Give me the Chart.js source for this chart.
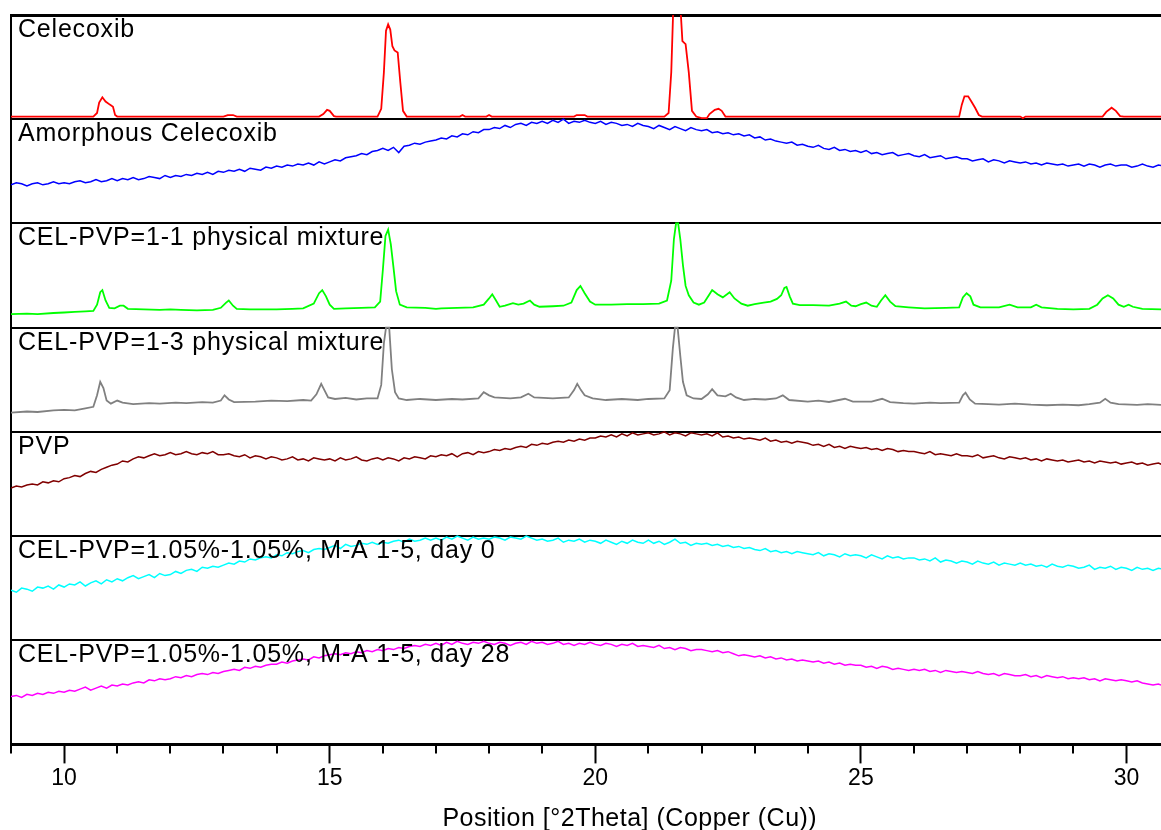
<!DOCTYPE html>
<html lang="en">
<head>
    <meta charset="UTF-8">
    <title>XRD patterns - Celecoxib / PVP</title>
    <style>
        body {
            margin: 0;
            background-color: #ffffff;
            overflow: hidden;
        }
        canvas {
            display: block;
        }
    </style>
</head>
<body>
    <canvas id="xrdChart" width="1161" height="830"></canvas>

    <script src="https://cdn.jsdelivr.net/npm/chart.js"></script>

    <script>
        // panel names, top to bottom
        const panelLabels = [
            'Celecoxib',
            'Amorphous Celecoxib',
            'CEL-PVP=1-1 physical mixture',
            'CEL-PVP=1-3 physical mixture',
            'PVP',
            'CEL-PVP=1.05%-1.05%, M-A 1-5, day 0',
            'CEL-PVP=1.05%-1.05%, M-A 1-5, day 28'
        ];
        const panelColors = ['#ff0000', '#0000ff', '#00ff00', '#808080', '#800000', '#00ffff', '#ff00ff'];

        const xTicks = [10, 15, 20, 25, 30];
        const axisTitle = 'Position [°2Theta] (Copper (Cu))';

        // scan grid of the amorphous patterns: 9.0 .. 30.7 °2Theta, step 0.1
        const scanStart = 9.0;
        const scanStep = 0.1;

        // relative intensity (% of panel height), one row per degree
        const amorphousCelecoxib = [
            37, 39, 38, 36, 38, 39, 37, 38, 40, 38,
            39, 38, 40, 41, 39, 40, 42, 40, 41, 43,
            41, 43, 42, 44, 42, 43, 45, 44, 43, 46,
            44, 46, 45, 47, 46, 48, 47, 49, 47, 50,
            49, 51, 50, 52, 50, 53, 52, 51, 54, 53,
            55, 54, 56, 55, 57, 56, 58, 56, 59, 57,
            59, 61, 60, 63, 64, 65, 67, 66, 69, 70,
            72, 70, 73, 68, 74, 75, 77, 76, 78, 79,
            80, 82, 81, 84, 83, 86, 85, 88, 87, 90,
            90, 92, 91, 94, 92, 95, 96, 94, 97, 96,
            98, 96, 99, 97, 100, 96, 98, 97, 99, 97,
            96, 98, 95, 97, 96, 94, 95, 93, 96, 94,
            93, 91, 94, 92, 90, 93, 91, 89, 92, 90,
            89, 90, 87, 88, 86, 87, 85, 86, 84, 85,
            82, 83, 80, 81, 79, 78, 77, 78, 75, 76,
            74, 73, 75, 72, 71, 73, 70, 71, 69, 70,
            68, 70, 67, 68, 66, 67, 68, 65, 66, 67,
            65, 64, 66, 63, 64, 65, 62, 63, 64, 62,
            62, 60, 61, 62, 59, 61, 60, 58, 60, 59,
            58, 59, 57, 58, 56, 58, 57, 56, 57, 55,
            56, 57, 55, 57, 56, 54, 56, 57, 55, 56,
            56, 54, 55, 57, 55, 54, 56, 55
        ];

        const pvp = [
            46, 48, 47, 49, 50, 49, 52, 51, 53, 52,
            55, 56, 58, 57, 60, 62, 61, 64, 66, 68,
            69, 72, 71, 74, 76, 75, 77, 79, 77, 78,
            80, 78, 79, 81, 79, 78, 80, 79, 81, 78,
            78, 79, 77, 76, 78, 75, 77, 76, 74, 76,
            75, 73, 74, 76, 73, 74, 72, 75, 74, 73,
            74, 72, 75, 73, 74, 76, 73, 72, 74, 75,
            73, 75, 74, 72, 75, 74, 76, 75, 74, 77,
            76, 78, 77, 79, 76, 79, 80, 78, 81, 80,
            81, 83, 82, 84, 83, 85, 86, 85, 88, 87,
            89, 88, 90, 91, 90, 92, 91, 93, 92, 94,
            94, 96, 95, 97, 95, 98, 96, 99, 97, 98,
            99, 97, 98, 100, 97, 99, 98, 96, 99, 98,
            97, 98, 96, 99, 95, 96, 94, 95, 93, 94,
            93, 92, 94, 91, 92, 90, 91, 89, 91, 90,
            89, 87, 88, 86, 88, 85, 86, 84, 86, 85,
            84, 85, 83, 84, 82, 84, 83, 81, 82, 81,
            81, 80, 79, 81, 78, 79, 78, 77, 79, 77,
            77, 76, 78, 75, 76, 77, 75, 74, 76, 75,
            74, 75, 73, 74, 72, 74, 73, 72, 73, 71,
            72, 73, 71, 72, 70, 72, 71, 70, 71, 69,
            70, 71, 69, 70, 68, 69, 70, 68
        ];

        const day0 = [
            48, 46, 50, 49, 47, 51, 50, 52, 49, 53,
            51, 54, 53, 56, 52, 55, 57, 54, 58, 56,
            59, 57, 60, 62, 59, 61, 63, 60, 64, 62,
            63, 66, 64, 67, 68, 66, 70, 69, 71, 70,
            72, 74, 73, 76, 75, 78, 77, 79, 80, 79,
            82, 81, 84, 83, 85, 86, 84, 87, 88, 87,
            89, 91, 88, 92, 90, 91, 93, 92, 94, 92,
            94, 93, 95, 96, 94, 97, 95, 96, 98, 96,
            98, 96, 99, 97, 100, 98, 96, 99, 97, 98,
            97, 99, 98, 96, 99, 98, 97, 100, 98, 96,
            97, 95, 96, 98, 94, 96, 95, 97, 94, 96,
            95, 93, 96, 94, 92, 95, 93, 96, 94, 93,
            96, 93, 95, 92, 94, 97, 93, 94, 91, 93,
            92, 93, 91, 92, 90, 91, 89, 90, 88, 89,
            87, 86, 88, 85, 86, 84, 85, 83, 85, 84,
            83, 82, 84, 81, 83, 82, 80, 83, 81, 82,
            81, 79, 82, 80, 78, 81, 79, 80, 78, 79,
            79, 77, 78, 76, 79, 75, 77, 76, 74, 76,
            75, 73, 76, 74, 73, 75, 72, 74, 73, 72,
            74, 72, 73, 71, 72, 70, 73, 71, 70, 72,
            71, 69, 70, 72, 68, 70, 69, 71, 68, 70,
            69, 67, 70, 68, 69, 67, 69, 68
        ];

        const day28 = [
            46, 47, 45, 48, 47, 49, 48, 50, 49, 51,
            50, 52, 51, 53, 55, 52, 54, 56, 54, 57,
            56, 58, 57, 59, 60, 59, 62, 61, 63, 62,
            63, 65, 64, 66, 65, 67, 68, 67, 69, 68,
            70, 71, 72, 71, 74, 73, 75, 74, 76, 77,
            77, 79, 78, 80, 81, 82, 81, 84, 83, 85,
            86, 87, 86, 88, 87, 89, 88, 90, 89, 91,
            90, 92, 91, 93, 92, 94, 95, 94, 96, 95,
            97, 95, 98, 96, 99, 97, 96, 98, 97, 99,
            97, 96, 98, 97, 95, 97, 98, 96, 99, 97,
            98, 96, 97, 99, 96, 97, 95, 97, 96, 98,
            96, 95, 97, 96, 94, 96, 95, 97, 94, 95,
            94, 93, 95, 92, 93, 91, 93, 92, 90, 91,
            91, 90, 89, 90, 88, 89, 87, 85, 86, 85,
            84, 85, 83, 84, 82, 83, 81, 82, 80, 81,
            80, 79, 80, 78, 79, 77, 78, 76, 77, 76,
            76, 74, 75, 73, 75, 74, 72, 73, 72, 71,
            72, 71, 72, 70, 71, 69, 71, 70, 69, 70,
            69, 68, 70, 68, 67, 68, 66, 68, 67, 66,
            66, 67, 65, 66, 64, 66, 65, 64, 65, 63,
            64, 63, 64, 62, 63, 61, 63, 62, 61, 62,
            61, 60, 61, 59, 58, 57, 58, 56
        ];

        // crystalline patterns: [°2Theta, relative intensity %]
        const celecoxib = [
            [9.0, 2.5], [10.55, 2.5], [10.62, 6], [10.66, 16], [10.72, 21], [10.78, 17], [10.86, 14],
            [10.92, 12], [10.96, 4], [11.0, 2.5], [13.0, 2.5], [13.08, 4], [13.18, 4], [13.25, 2.5],
            [14.8, 2.5], [14.88, 5], [14.95, 9], [15.0, 8], [15.08, 3], [15.12, 2.5],
            [15.9, 2.5], [15.97, 10], [16.02, 45], [16.06, 85], [16.1, 91], [16.14, 86], [16.18, 70],
            [16.22, 66], [16.28, 64], [16.33, 35], [16.38, 8], [16.45, 2.5],
            [17.45, 2.5], [17.5, 4], [17.55, 2.5], [17.95, 2.5], [18.0, 4], [18.05, 2.5],
            [19.6, 2.5], [19.65, 4], [19.8, 4], [19.85, 2.5],
            [21.3, 2.5], [21.38, 6], [21.43, 45], [21.47, 110], [21.55, 110], [21.6, 110], [21.64, 75],
            [21.7, 72], [21.76, 45], [21.82, 8], [21.9, 2.5], [22.0, 1], [22.1, 1], [22.15, 5],
            [22.25, 9], [22.32, 10], [22.38, 8], [22.45, 2.5],
            [26.85, 2.5], [26.9, 14], [26.95, 22], [27.02, 22], [27.08, 17], [27.15, 11], [27.22, 4],
            [27.28, 2.5], [28.0, 2.5], [28.05, 1], [28.1, 2.5],
            [29.55, 2.5], [29.62, 7], [29.72, 11], [29.8, 8], [29.88, 3], [29.95, 2.5], [30.7, 2.5]
        ];

        const mixture11 = [
            [9.0, 13], [9.3, 13.5], [9.5, 13], [9.8, 14], [10.0, 14.5], [10.2, 15], [10.4, 15.5],
            [10.55, 16], [10.62, 22], [10.68, 34], [10.72, 36], [10.78, 26], [10.85, 19], [10.95, 18.5],
            [11.05, 21], [11.12, 21], [11.2, 18], [11.5, 17.5], [11.8, 17], [12.0, 17.5], [12.2, 17],
            [12.5, 16.5], [12.8, 17], [12.95, 19], [13.05, 24], [13.1, 26], [13.18, 21], [13.25, 18],
            [13.5, 17.5], [14.0, 17.5], [14.3, 18], [14.5, 18.5], [14.7, 23], [14.8, 33], [14.86, 36],
            [14.93, 30], [15.0, 22], [15.08, 18], [15.3, 18.5], [15.6, 19], [15.85, 19.5], [15.95, 25],
            [16.0, 55], [16.05, 88], [16.1, 94], [16.15, 80], [16.2, 58], [16.25, 35], [16.32, 22],
            [16.45, 19.5], [16.8, 19], [17.0, 18], [17.1, 18.5], [17.4, 19], [17.7, 19.5], [17.9, 22],
            [18.0, 28], [18.06, 32], [18.12, 27], [18.2, 20], [18.3, 21], [18.45, 23.5], [18.55, 22],
            [18.65, 23], [18.77, 26], [18.85, 22], [18.95, 20], [19.2, 20.5], [19.4, 21], [19.55, 24],
            [19.65, 36], [19.72, 40], [19.8, 33], [19.9, 25], [20.0, 22], [20.3, 22], [20.6, 22.5],
            [20.9, 22.5], [21.2, 23], [21.35, 26], [21.43, 45], [21.48, 85], [21.52, 100], [21.56, 100],
            [21.6, 85], [21.65, 60], [21.7, 40], [21.76, 31], [21.85, 24], [21.95, 22], [22.05, 24],
            [22.15, 32], [22.2, 36], [22.3, 32], [22.4, 29], [22.48, 32], [22.53, 34], [22.62, 28],
            [22.75, 23], [22.87, 21], [23.0, 22.5], [23.17, 24], [23.3, 25], [23.42, 27.5], [23.5, 31],
            [23.56, 38], [23.6, 39], [23.66, 30], [23.72, 23], [23.85, 21.5], [24.1, 21.5], [24.4, 21],
            [24.6, 23], [24.72, 25], [24.82, 21], [24.9, 20.5], [25.0, 22.5], [25.1, 24], [25.2, 21],
            [25.3, 20], [25.38, 26], [25.46, 31], [25.55, 25], [25.65, 20.5], [25.9, 19.5], [26.2, 18.5],
            [26.6, 19], [26.85, 19.5], [26.92, 29], [26.99, 33], [27.06, 30], [27.12, 22], [27.25, 19.5],
            [27.6, 19.5], [27.8, 22], [27.95, 19.5], [28.2, 19.5], [28.3, 22], [28.4, 19.5], [28.7, 18],
            [29.0, 17.5], [29.3, 18], [29.45, 22], [29.55, 28], [29.65, 31], [29.75, 28], [29.85, 22],
            [29.95, 20], [30.04, 22], [30.12, 20], [30.3, 18], [30.7, 17.5]
        ];

        const mixture13 = [
            [9.0, 18.4], [9.3, 19.5], [9.5, 19], [9.8, 20.5], [10.0, 21], [10.2, 20.5], [10.4, 22.5],
            [10.55, 24], [10.62, 35], [10.68, 48], [10.74, 42], [10.8, 30], [10.88, 27], [11.0, 30],
            [11.1, 28], [11.3, 26.5], [11.6, 27.5], [11.8, 27], [12.1, 28], [12.3, 27.5], [12.6, 28.5],
            [12.8, 28], [12.95, 30], [13.02, 35], [13.1, 31], [13.2, 28.5], [13.6, 29], [13.9, 30],
            [14.2, 29.5], [14.5, 30.5], [14.65, 30], [14.75, 36], [14.84, 46], [14.9, 40], [14.97, 33],
            [15.1, 31.5], [15.3, 32.5], [15.5, 31], [15.7, 32], [15.9, 32], [15.97, 45], [16.02, 85],
            [16.06, 100], [16.12, 100], [16.17, 60], [16.23, 38], [16.3, 32], [16.45, 30.5], [16.7, 31.5],
            [17.0, 30.5], [17.3, 31.5], [17.5, 31], [17.8, 32], [17.9, 38], [18.0, 35], [18.1, 33],
            [18.4, 32], [18.6, 33], [18.74, 36.5], [18.85, 33], [19.2, 32], [19.5, 33], [19.6, 40],
            [19.66, 46], [19.73, 40], [19.8, 35], [19.95, 32], [20.2, 30.5], [20.5, 31.5], [20.8, 30.5],
            [21.0, 31.5], [21.3, 32], [21.4, 40], [21.46, 80], [21.5, 100], [21.55, 100], [21.6, 73],
            [21.65, 48], [21.72, 35], [21.85, 32], [22.0, 31.5], [22.12, 36], [22.2, 41], [22.3, 35],
            [22.45, 34], [22.55, 36.5], [22.65, 33], [22.8, 30.5], [23.0, 31.5], [23.2, 31], [23.4, 32],
            [23.53, 35], [23.65, 30.5], [24.0, 29], [24.2, 30], [24.4, 28.6], [24.7, 31.7], [24.85, 29],
            [25.2, 29], [25.4, 31.7], [25.55, 28.5], [25.8, 27.5], [26.0, 27], [26.3, 28], [26.5, 27.5],
            [26.85, 28], [26.92, 35], [26.97, 37.5], [27.05, 31], [27.15, 27], [27.4, 26.5], [27.6, 26],
            [27.9, 27], [28.2, 26], [28.5, 25.5], [28.8, 26], [29.1, 25.5], [29.3, 26.5], [29.5, 28],
            [29.6, 31.7], [29.7, 28], [29.85, 26.5], [30.2, 25.8], [30.4, 26.5], [30.7, 25.7]
        ];

        const panelHeight = 100;
        const panelCount = panelLabels.length;

        function offsetOf(panel) {
            return (panelCount - 1 - panel) * panelHeight;
        }

        function fromScan(values, panel) {
            return values.map(function(v, i) {
                return { x: Math.round((scanStart + i * scanStep) * 100) / 100, y: offsetOf(panel) + v };
            });
        }

        function fromPairs(pairs, panel) {
            return pairs.map(function(p) {
                return { x: p[0], y: offsetOf(panel) + p[1] };
            });
        }

        function makeDataset(points, panel, width) {
            return {
                label: panelLabels[panel],
                data: points,
                borderColor: panelColors[panel],
                borderWidth: width,
                pointRadius: 0,
                tension: 0,
                fill: false
            };
        }

        const fontFamily = '"Liberation Sans", Arial, sans-serif';

        const xrdDecor = {
            id: 'xrdDecor',
            afterDatasetsDraw: function(chart) {
                const ctx = chart.ctx;
                const xs = chart.scales.x;
                const ys = chart.scales.y;
                const area = chart.chartArea;
                ctx.save();

                // panel names
                ctx.fillStyle = '#000';
                ctx.font = '25px ' + fontFamily;
                ctx.letterSpacing = '0.8px';
                ctx.textBaseline = 'alphabetic';
                ctx.textAlign = 'left';
                panelLabels.forEach(function(name, i) {
                    const top = ys.getPixelForValue(offsetOf(i) + panelHeight);
                    ctx.fillText(name, area.left + 7, top + 22);
                });

                // minor ticks every degree
                ctx.strokeStyle = '#000';
                ctx.lineWidth = 2;
                for (let v = Math.ceil(xs.min); v <= xs.max; v++) {
                    if (xTicks.indexOf(v) !== -1) continue;
                    const px = Math.round(xs.getPixelForValue(v));
                    ctx.beginPath();
                    ctx.moveTo(px, area.bottom);
                    ctx.lineTo(px, area.bottom + 9);
                    ctx.stroke();
                }

                // axis title
                ctx.font = '25px ' + fontFamily;
                ctx.letterSpacing = '0.5px';
                ctx.textAlign = 'center';
                ctx.textBaseline = 'middle';
                ctx.fillText(axisTitle, xs.getPixelForValue(20.65), 819);
                ctx.restore();
            }
        };

        window.onload = function() {
            const datasets = [
                makeDataset(fromPairs(celecoxib, 0), 0, 1.8),
                makeDataset(fromScan(amorphousCelecoxib, 1), 1, 1.5),
                makeDataset(fromPairs(mixture11, 2), 2, 1.8),
                makeDataset(fromPairs(mixture13, 3), 3, 1.8),
                makeDataset(fromScan(pvp, 4), 4, 1.5),
                makeDataset(fromScan(day0, 5), 5, 1.5),
                makeDataset(fromScan(day28, 6), 6, 1.5)
            ];

            new Chart(document.getElementById('xrdChart').getContext('2d'), {
                type: 'line',
                data: { datasets: datasets },
                options: {
                    responsive: false,
                    animation: false,
                    devicePixelRatio: 1,
                    layout: {
                        padding: { left: 11, top: 15, right: 0, bottom: 37 }
                    },
                    plugins: {
                        legend: { display: false },
                        tooltip: { enabled: false }
                    },
                    scales: {
                        x: {
                            type: 'linear',
                            min: 9,
                            max: 30.65,
                            border: { display: true, color: '#000', width: 3 },
                            grid: {
                                drawOnChartArea: false,
                                drawTicks: true,
                                tickLength: 19,
                                tickWidth: 2,
                                tickColor: function(c) {
                                    return xTicks.indexOf(c.tick.value) !== -1 ? '#000' : 'rgba(0,0,0,0)';
                                }
                            },
                            ticks: {
                                stepSize: 1,
                                includeBounds: false,
                                autoSkip: false,
                                maxRotation: 0,
                                padding: 1,
                                color: '#000',
                                font: { family: fontFamily, size: 23 },
                                callback: function(value) {
                                    return xTicks.indexOf(value) !== -1 ? String(value) : '';
                                }
                            }
                        },
                        y: {
                            type: 'linear',
                            min: 0,
                            max: panelCount * panelHeight,
                            border: { display: true, color: '#000', width: 2 },
                            grid: {
                                drawTicks: false,
                                color: '#000',
                                lineWidth: function(c) {
                                    return c.tick.value === panelCount * panelHeight ? 3 : 2;
                                }
                            },
                            ticks: {
                                display: false,
                                stepSize: panelHeight
                            }
                        }
                    }
                },
                plugins: [xrdDecor]
            });
        };
    </script>
</body>
</html>
